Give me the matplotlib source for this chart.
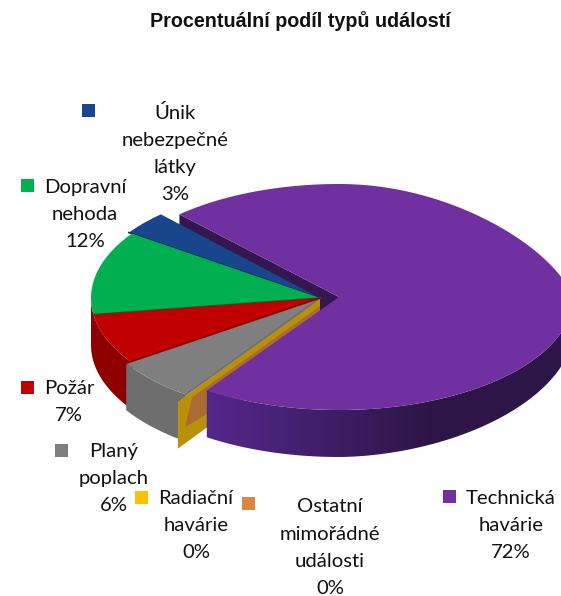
import numpy as np
import matplotlib
matplotlib.use("Agg")
import matplotlib.pyplot as plt
from matplotlib.colors import to_rgb
from matplotlib.patches import Polygon, Rectangle

# Data, counter-clockwise from the purple slice's start edge.
categories = ["Únik\nnebezpečné\nlátky", "Dopravní\nnehoda", "Požár", "Planý\npoplach",
    "Radiační\nhavárie", "Ostatní\nmimořádné\nudálosti", "Technická\nhavárie"]
values = [3.4, 12.0, 6.6, 6.1, 0.2, 0.2, 71.5]
colors = ["#17468c", "#00b050", "#c00000", "#7f7f7f", "#ffc000", "#dd8640", "#7030a0"]
side_colors = ["#0f2f5e", "#00702f", "#8e0000", "#6e6e6e", "#b8900a", "#ab6c2f", "#4a2379"]

# Pixel layout of the fake 3D pie.
start_angle = 133.0
center = (320.0, 298.0)
purple_center = (339.0, 297.0)
rx = 229.0
purple_rx = 234.0
ry = 113.0
depth = 47.0

label_pos = [(175, 113), (85, 187), (69, 388), (114, 451), (196, 498), (330, 507), (511, 498)]
key_pos = [(82, 104), (21, 179), (21, 381), (55, 444), (135, 491), (242, 497), (443, 490)]
line_step = 27.2
rim_shift = [(-3, -1), (0, 0), (0, 0), (0, 5), (-8, 12), (-8, 12), (0, 0)]


def rim(c, angles, radius=rx, squeeze=0.0):
    t = np.radians(angles)
    # The far right of the pie looks narrower because of the perspective.
    factor = 1 - squeeze * np.clip(np.sin(t), 0, None) * (np.cos(t) > 0)
    return np.column_stack([c[0] + radius * np.cos(t) * factor, c[1] - ry * np.sin(t)])


def draw_side(ax, a0, a1, shift, color, zorder):
    a0 = max(a0, 180.0)
    if a1 <= a0:
        return
    top = rim(center, np.linspace(a0, a1, 60)) + shift
    ax.add_patch(Polygon(np.vstack([top, top[::-1] + [0, depth]]), closed=True, fc=color,
        ec="none", zorder=zorder))


def draw_purple_side(ax, a0):
    a = np.linspace(a0, 360.0, 200)
    top = rim(purple_center, a, purple_rx)
    # Wall gets thinner toward the right side.
    dx = np.clip((top[:, 0] - purple_center[0]) / 221.0, 0, None)
    drop = depth - 13.0 * dx ** 1.5
    bottom = top + np.column_stack([np.zeros(len(a)), drop])
    wall = Polygon(np.vstack([top, bottom[::-1]]), closed=True, fc="none", ec="none", zorder=5)
    ax.add_patch(wall)
    # Horizontal shading, light at the cut and dark from the middle on.
    x = np.linspace(200, 580, 256)
    f = np.clip((x - 207) / 223.0, 0, 1)[:, None]
    shade = np.array(to_rgb("#54278c")) * (1 - f) + np.array(to_rgb("#2d1647")) * f
    im = ax.imshow(shade[None, :, :], extent=(200, 580, 470, 300), aspect="auto", zorder=5)
    im.set_clip_path(wall)


fig = plt.figure(figsize=(5.61, 5.96), dpi=100)
ax = fig.add_axes([0, 0, 1, 1])

angles = start_angle + np.cumsum([0] + values) * 3.6
c = np.array(center)

# Dark cut wall of the purple slice, seen behind the small slices.
p_rim = rim(purple_center, [start_angle], purple_rx)[0]
apex = np.array(purple_center)
ax.add_patch(Polygon([p_rim, apex, apex + [0, depth], p_rim + [0, depth]], closed=True,
    fc="#34174f", ec="none", zorder=1))

# Small slices, each one overlaps a little under the next one.
for i in range(4):
    a0 = angles[i]
    a1 = angles[i + 1] + (3.0 if i == 2 else 0.0)
    a = np.linspace(a0, a1, 60)
    edge = rim(center, a) + rim_shift[i]
    if i != 1:
        draw_side(ax, a0 - (8.0 if i == 2 else 0.0), a1, rim_shift[i], side_colors[i], 3 + i * 0.1)
    ax.add_patch(Polygon(np.vstack([c, edge]), closed=True, fc=colors[i], ec="none",
        zorder=4 + i * 0.1))
    # Dark seam along the slice's far edge; the red one follows the grey start.
    if i == 2:
        end = rim(center, [angles[3]])[0] + rim_shift[3]
        seam_z = 4.35
    else:
        end = rim(center, [angles[i + 1]])[0] + rim_shift[i]
        seam_z = 4 + i * 0.1
    ax.plot([c[0], end[0]], [c[1], end[1]], color=side_colors[i], lw=1.2, zorder=seam_z)

# Cut walls of the two zero slices, in front of the grey side.
p = rim(center, [angles[4]])[0] + rim_shift[4]
ax.add_patch(Polygon([p, c, c + [0, depth], p + [0, depth]], closed=True,
    fc=side_colors[4], ec="none", zorder=3.8))
p2 = p + (c - p) * 0.1 + [0, 6]
ax.add_patch(Polygon([p2, c + [0, 8], c + [0, depth], p2 + [-7, 30]], closed=True,
    fc=side_colors[5], ec="none", zorder=3.9))

# Big slice goes on top.
a = np.linspace(angles[6], angles[7], 300)
draw_purple_side(ax, angles[6])
ax.add_patch(Polygon(np.vstack([purple_center, rim(purple_center, a, purple_rx, 0.2)]),
    closed=True, fc=colors[6], ec="none", zorder=6))

ax.text(300, 21, "Procentuální podíl typů událostí", ha="center", va="center",
    fontsize=14.2, fontweight="bold", family="Liberation Sans", color="#111111")

for name, v, pos, key, col in zip(categories, values, label_pos, key_pos, colors):
    lines = name.split("\n") + ["{0:.0f}%".format(v)]
    for n, line in enumerate(lines):
        ax.text(pos[0], pos[1] + n * line_step, line, ha="center", va="center",
            fontsize=14.6, family="Lato", color="#111111", zorder=8)
    ax.add_patch(Rectangle(key, 13, 13, fc=col, ec="none", zorder=8))

ax.set_xlim(0, 561)
ax.set_ylim(596, 0)
ax.axis("off")

fig.savefig("out.png", dpi=100)
